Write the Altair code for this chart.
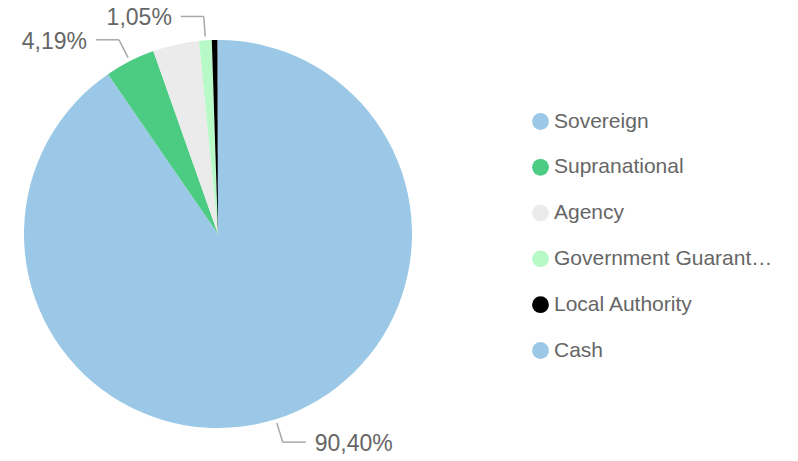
import altair as alt
import pandas as pd

categories = ["Sovereign", "Supranational", "Agency", "Government Guaranteed", "Local Authority", "Cash"]
values = [90.40, 4.19, 3.85, 1.05, 0.48, 0.03]
labels = ["90,40%", "4,19%", "", "1,05%", "", ""]
colors = ["#9BC8E6", "#4CCB82", "#EBEBEB", "#B8F9C8", "#000000", "#9BC8E6"]

df = pd.DataFrame({
    "category": categories,
    "value": values,
    "label": labels,
    "order": list(range(len(categories))),
})

PAD_TOP = 4
W, H = 782, 453 - PAD_TOP
CX, CY = 210, 226 - PAD_TOP
R = 194
R1, R2 = 198, 218
HLEN, TOFF = 23, 9
FONT = "Liberation Sans"
TEXT_COLOR = "#666666"
LINE_COLOR = "#A8A8A8"

base = alt.Chart(df)

pie = base.mark_arc(radius=R).encode(
    x=alt.value(CX),
    y=alt.value(CY),
    theta=alt.Theta("value:Q", stack=True),
    order=alt.Order("order:Q"),
    color=alt.Color(
        "category:N",
        scale=alt.Scale(domain=categories, range=colors),
        sort=categories,
        legend=alt.Legend(
            title=None,
            orient="none",
            legendX=522,
            legendY=103 - PAD_TOP,
            symbolType="circle",
            symbolSize=283,
            symbolStrokeWidth=0,
            labelFontSize=21,
            labelFont=FONT,
            labelColor=TEXT_COLOR,
            labelLimit=225,
            rowPadding=23.8,
            labelOffset=3,
        ),
    ),
)

geo = (
    base.transform_joinaggregate(total="sum(value)")
    .transform_window(cum="sum(value)", sort=[alt.SortField("order")], frame=[None, 0])
    .transform_calculate(ang="2*PI*(datum.cum - datum.value/2)/datum.total")
    .transform_calculate(
        side="sin(datum.ang) >= 0 ? 1 : -1",
        xa=f"{CX} + {R1}*sin(datum.ang)",
        ya=f"{CY} - {R1}*cos(datum.ang)",
        xb=f"{CX} + {R2}*sin(datum.ang)",
        yb=f"{CY} - {R2}*cos(datum.ang)",
    )
    .transform_calculate(
        xc=f"datum.xb + {HLEN}*datum.side",
        tx=f"datum.xb + {HLEN + TOFF}*datum.side",
    )
    .transform_filter("datum.label != ''")
)

rule1 = geo.mark_rule(color=LINE_COLOR, strokeWidth=1.5).encode(
    x=alt.X("xa:Q", scale=None),
    y=alt.Y("ya:Q", scale=None),
    x2="xb:Q",
    y2="yb:Q",
)
rule2 = geo.mark_rule(color=LINE_COLOR, strokeWidth=1.5).encode(
    x=alt.X("xb:Q", scale=None),
    y=alt.Y("yb:Q", scale=None),
    x2="xc:Q",
    y2="yb:Q",
)
text_r = geo.transform_filter("datum.side > 0").mark_text(
    align="left", baseline="middle", dy=2, fontSize=23, font=FONT, color=TEXT_COLOR
).encode(
    x=alt.X("tx:Q", scale=None),
    y=alt.Y("yb:Q", scale=None),
    text="label:N",
)
text_l = geo.transform_filter("datum.side < 0").mark_text(
    align="right", baseline="middle", dy=2, fontSize=23, font=FONT, color=TEXT_COLOR
).encode(
    x=alt.X("tx:Q", scale=None),
    y=alt.Y("yb:Q", scale=None),
    text="label:N",
)

chart = (
    alt.layer(pie, rule1, rule2, text_r, text_l)
    .properties(
        width=W,
        height=H,
        padding={"top": PAD_TOP, "left": 0, "right": 0, "bottom": 0},
        background="white",
        autosize=alt.AutoSizeParams(type="none"),
    )
    .configure_view(stroke=None)
)

chart.save("out.html", embed_options={"renderer": "svg", "actions": False})
